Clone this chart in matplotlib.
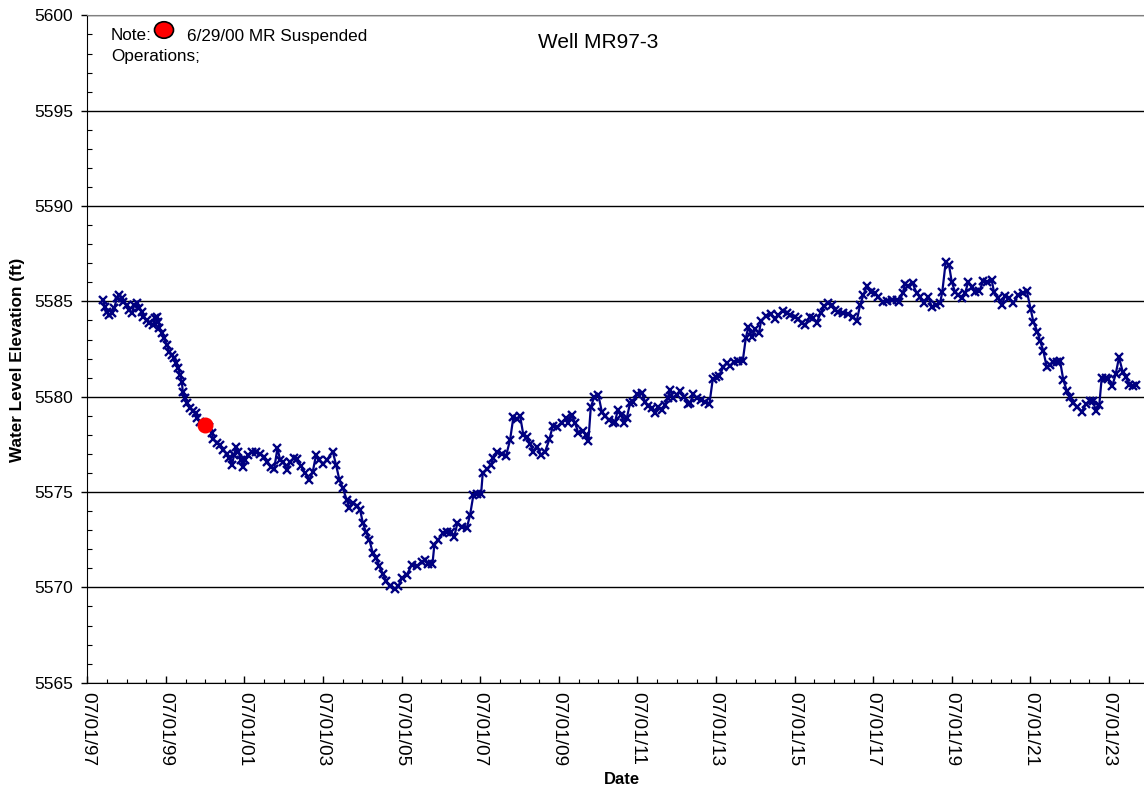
import matplotlib
matplotlib.use("Agg")
import matplotlib.pyplot as plt
import matplotlib.dates as mdates
from matplotlib.patches import Ellipse
from matplotlib.ticker import MultipleLocator
from datetime import datetime, timedelta

plt.rcParams['font.family'] = ['Liberation Sans', 'DejaVu Sans']

# fechas en años decimales y nivel del agua (ft)
years = [
    1997.892, 1997.950, 1997.994, 1998.060, 1998.121, 1998.179, 1998.248, 1998.314,
    1998.375, 1998.416, 1998.503, 1998.569, 1998.630, 1998.688, 1998.757, 1998.823,
    1998.884, 1998.925, 1999.011, 1999.078, 1999.164, 1999.223, 1999.266, 1999.307,
    1999.332, 1999.393, 1999.452, 1999.520, 1999.586, 1999.648, 1999.706, 1999.757,
    1999.815, 1999.859, 1999.902, 1999.927, 1999.986, 2000.045, 2000.113, 2000.197,
    2000.266, 2000.299, 2000.368, 2000.495, 2000.604, 2000.665, 2000.706, 2000.793,
    2000.877, 2000.961, 2001.047, 2001.113, 2001.174, 2001.233, 2001.284, 2001.342,
    2001.403, 2001.454, 2001.513, 2001.597, 2001.683, 2001.793, 2001.894, 2001.996,
    2002.080, 2002.167, 2002.251, 2002.335, 2002.403, 2002.487, 2002.573, 2002.658,
    2002.759, 2002.843, 2002.930, 2003.039, 2003.149, 2003.235, 2003.319, 2003.403,
    2003.505, 2003.592, 2003.744, 2003.828, 2003.912, 2003.999,
    2004.100, 2004.167, 2004.268, 2004.370, 2004.439, 2004.508, 2004.592, 2004.676,
    2004.762, 2004.846, 2004.930, 2005.016, 2005.100, 2005.202, 2005.329, 2005.413,
    2005.500, 2005.627, 2005.754, 2005.882, 2006.009, 2006.093, 2006.177, 2006.279,
    2006.329, 2006.431, 2006.543, 2006.645, 2006.747, 2006.831, 2006.915, 2007.027,
    2007.154, 2007.238, 2007.322, 2007.408, 2007.518,
    2007.561, 2007.678, 2007.764, 2007.831, 2007.917, 2008.044, 2008.154, 2008.256,
    2008.340, 2008.426, 2008.510, 2008.594, 2008.681, 2008.765, 2008.848, 2008.950,
    2009.037, 2009.146, 2009.256, 2009.342, 2009.444, 2009.571, 2009.681, 2009.739,
    2009.826, 2009.910, 2009.994, 2010.105, 2010.189, 2010.248, 2010.309, 2010.393,
    2010.502, 2010.589, 2010.673, 2010.775, 2010.869, 2010.927, 2010.996, 2011.080,
    2011.156, 2011.225, 2011.309, 2011.393, 2011.495, 2011.607, 2011.691, 2011.775,
    2011.861, 2011.945, 2012.029, 2012.116, 2012.200, 2012.268, 2012.327, 2012.411,
    2012.497, 2012.581, 2012.683, 2012.777, 2012.836, 2012.920, 2013.006, 2013.108,
    2013.217, 2013.327, 2013.413, 2013.497, 2013.581, 2013.683, 2013.770, 2013.854,
    2013.955, 2014.065,
    2014.177, 2014.253, 2014.319, 2014.406, 2014.490, 2014.591, 2014.642, 2014.770,
    2014.889, 2014.999, 2015.083, 2015.194, 2015.296, 2015.380, 2015.507, 2015.591,
    2015.678, 2015.762, 2015.889, 2015.973, 2016.060, 2016.161, 2016.245, 2016.355,
    2016.441, 2016.525, 2016.609, 2016.736, 2016.864, 2016.976, 2017.077, 2017.161,
    2017.245, 2017.332, 2017.434, 2017.543, 2017.627, 2017.739, 2017.841, 2017.968,
    2018.095, 2018.161, 2018.248, 2018.306, 2018.390, 2018.502, 2018.604, 2018.688,
    2018.790, 2018.899, 2018.986, 2019.095, 2019.197, 2019.255, 2019.342, 2019.426,
    2019.495, 2019.579, 2019.663, 2019.749, 2019.833, 2019.917, 2020.004, 2020.088,
    2020.197, 2020.299, 2020.401, 2020.513, 2020.571, 2020.665,
    2020.767, 2020.851, 2020.960, 2021.062, 2021.189, 2021.301, 2021.403, 2021.505,
    2021.571, 2021.673, 2021.741, 2021.825, 2021.912, 2021.996, 2022.080, 2022.166,
    2022.250, 2022.334, 2022.421, 2022.505, 2022.589, 2022.691, 2022.803, 2022.912,
    2023.014, 2023.082, 2023.166, 2023.250, 2023.311, 2023.421, 2023.479, 2023.581,
    2023.668, 2023.752, 2023.846, 2023.930, 2024.014, 2024.100, 2024.184,
]

levels = [
    5585.07, 5584.72, 5584.45, 5584.28, 5584.37, 5584.63, 5585.16, 5585.33,
    5585.16, 5584.98, 5584.80, 5584.54, 5584.37, 5584.80, 5584.89, 5584.66,
    5584.45, 5584.19, 5584.02, 5583.85, 5583.76, 5584.11, 5584.19, 5583.93,
    5583.58, 5583.32, 5583.06, 5582.71, 5582.36, 5582.19, 5582.01, 5581.75,
    5581.49, 5581.14, 5580.79, 5580.26, 5579.92, 5579.66, 5579.39, 5579.25,
    5579.13, 5578.87, 5578.69, 5578.52, 5578.43, 5578.08, 5577.77, 5577.59,
    5577.47, 5577.21, 5577.00, 5576.77, 5576.42, 5576.95, 5577.38, 5577.12,
    5576.69, 5576.30, 5576.69, 5576.95, 5577.12, 5577.12, 5577.00, 5576.86,
    5576.60, 5576.30, 5576.20, 5577.30, 5576.69, 5576.60, 5576.16, 5576.60,
    5576.77, 5576.72, 5576.37, 5575.99, 5575.64, 5576.07, 5576.95, 5576.69,
    5576.48, 5576.69, 5577.12, 5576.42, 5575.64, 5575.20,
    5574.59, 5574.16, 5574.42, 5574.28, 5574.07, 5573.40, 5572.88, 5572.50,
    5571.80, 5571.54, 5571.10, 5570.71, 5570.31, 5570.05, 5569.91, 5570.05,
    5570.49, 5570.66, 5571.19, 5571.13, 5571.31, 5571.41, 5571.22, 5571.22,
    5572.23, 5572.50, 5572.85, 5572.93, 5572.88, 5572.64, 5573.37, 5573.19,
    5573.11, 5573.80, 5574.85, 5574.89, 5574.89,
    5576.02, 5576.20, 5576.42, 5576.77, 5577.12, 5577.00, 5576.90, 5577.73,
    5578.92, 5578.82, 5579.01, 5578.00, 5577.87, 5577.52, 5577.12, 5577.35,
    5576.95, 5577.12, 5577.77, 5578.47, 5578.40, 5578.64, 5578.87, 5578.61,
    5579.04, 5578.61, 5578.08, 5578.20, 5578.00, 5577.68, 5579.45, 5579.97,
    5580.09, 5579.22, 5578.99, 5578.78, 5578.64, 5578.69, 5579.30, 5579.04,
    5578.64, 5578.87, 5579.66, 5579.74, 5580.14, 5580.21, 5579.74, 5579.51,
    5579.39, 5579.16, 5579.48, 5579.30, 5579.57, 5579.95, 5580.35, 5579.92,
    5580.09, 5580.32, 5580.00, 5579.62, 5579.66, 5580.13, 5579.92, 5579.83,
    5579.74, 5579.62, 5580.93, 5581.02, 5581.11, 5581.57, 5581.75, 5581.61,
    5581.83, 5581.87,
    5581.89, 5583.06, 5583.67, 5583.14, 5583.53, 5583.35, 5583.98, 5584.23,
    5584.33, 5584.06, 5584.28, 5584.51, 5584.40, 5584.28, 5584.16, 5584.06,
    5583.85, 5583.76, 5584.19, 5584.11, 5583.88, 5584.40, 5584.75, 5584.92,
    5584.80, 5584.54, 5584.45, 5584.40, 5584.33, 5584.16, 5583.98, 5584.80,
    5585.33, 5585.80, 5585.50, 5585.42, 5585.21, 5584.98, 5585.03, 5585.07,
    5585.07, 5584.98, 5585.45, 5585.89, 5585.80, 5585.94, 5585.42, 5585.24,
    5584.89, 5585.24, 5584.72, 5584.80, 5584.89, 5585.50, 5587.07, 5586.90,
    5586.03, 5585.50, 5585.33, 5585.16, 5585.42, 5586.03, 5585.76, 5585.50,
    5585.55, 5586.08, 5586.03, 5586.11, 5585.50, 5585.16,
    5584.80, 5585.28, 5585.16, 5584.92, 5585.33, 5585.42, 5585.55, 5584.58,
    5583.93, 5583.41, 5582.93, 5582.41, 5581.54, 5581.66, 5581.83, 5581.83,
    5581.89, 5580.88, 5580.32, 5579.97, 5579.69, 5579.48, 5579.22, 5579.62,
    5579.79, 5579.79, 5579.27, 5579.57, 5580.97, 5580.97, 5580.91, 5580.56,
    5581.19, 5582.06, 5581.31, 5581.02, 5580.61, 5580.56, 5580.61,
]

# nota: 6/29/00 MR suspende operaciones
note_date = datetime(2000, 6, 29)
note_level = 5578.52

# marcas principales del eje x: 1 de julio de los años impares
tick_years = list(range(1997, 2025, 2))


def to_date(y):
    yr = int(y)
    return datetime(yr, 1, 1) + timedelta(days=(y - yr) * 365.25)


dates = [to_date(y) for y in years]

W, H = 1144, 793
fig = plt.figure(figsize=(W / 100, H / 100), dpi=100)
ax = fig.add_axes([87.3 / W, 1 - 682.7 / H, 1 - 87.3 / W, (682.7 - 15.4) / H])

ax.plot(dates, levels, color="#000080", lw=1.6, marker="x", ms=5.5, mew=1.7)
ax.plot([note_date], [note_level], "o", color="#ff0000", ms=10.5, zorder=5)

ax.set_ylim(5565, 5600)
ax.set_xlim(datetime(1997, 7, 1), datetime(2024, 5, 22))
ax.yaxis.set_major_locator(MultipleLocator(5))
ax.yaxis.set_minor_locator(MultipleLocator(1))
ax.set_xticks([datetime(y, 7, 1) for y in tick_years])
ax.xaxis.set_minor_locator(mdates.MonthLocator(bymonth=[1, 7]))
ax.xaxis.set_major_formatter(mdates.DateFormatter("%m/%d/%y"))

ax.grid(axis="y", which="major", color="black", lw=1.0)
ax.set_axisbelow(True)
ax.spines["right"].set_visible(False)
ax.spines["top"].set_color("#808080")

ax.tick_params(axis="y", which="major", direction="out", length=4, width=1, pad=6, labelsize=12.5)
ax.tick_params(axis="y", which="minor", direction="in", length=3.5, width=0.8)
ax.tick_params(axis="x", which="major", direction="in", length=5, width=1, pad=7, labelsize=13.7,
               labelrotation=-90)
ax.tick_params(axis="x", which="minor", direction="in", length=3, width=0.8)

fig.text(18 / W, 1 - 360 / H, "Water Level Elevation (ft)", rotation=90, ha="center",
         va="center", fontsize=12.3, fontweight="bold")
fig.text(622 / W, 1 - 779 / H, "Date", ha="center", va="center", fontsize=12, fontweight="bold")
fig.text(598 / W, 1 - 42 / H, "Well MR97-3", ha="center", va="center", fontsize=15)

fig.text(111 / W, 1 - 36 / H, "Note:", ha="left", va="center", fontsize=12.3)
fig.text(187 / W, 1 - 36 / H, "6/29/00 MR Suspended", ha="left", va="center", fontsize=12.3)
fig.text(111 / W, 1 - 56 / H, "Operations;", ha="left", va="center", fontsize=12.3)
fig.add_artist(Ellipse((164 / W, 1 - 30 / H), 19 / W, 16.5 / H, transform=fig.transFigure,
                       facecolor="#ff0000", edgecolor="black", lw=1.2))

fig.savefig("out.png", dpi=100)
